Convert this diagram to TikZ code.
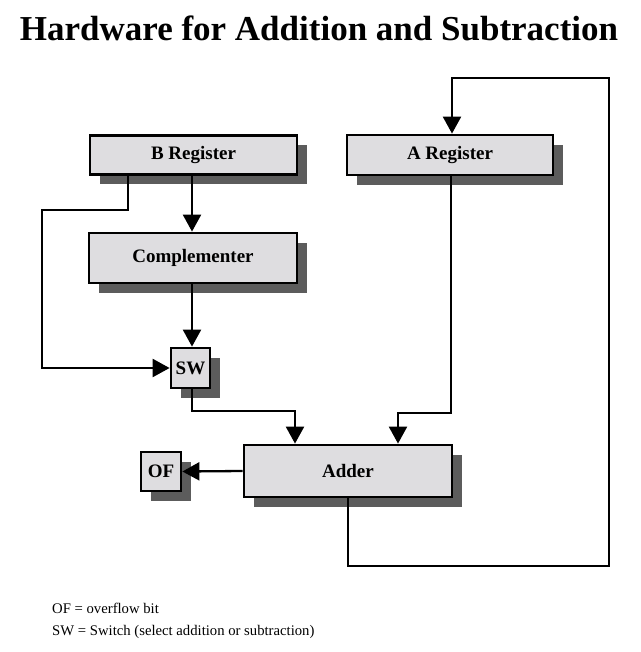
\documentclass[tikz,border=0pt]{standalone}
\usepackage{fontspec}
\setmainfont{Liberation Serif}
\usetikzlibrary{arrows.meta,shadows}
\definecolor{boxfill}{HTML}{DEDDE0}
\definecolor{shadowgray}{HTML}{5C5C5C}
\begin{document}
\begin{tikzpicture}[x=1pt,y=-1pt,
  blk/.style={draw=black, line width=2.8pt, fill=boxfill, inner sep=0pt,
    font=\bfseries\fontsize{19}{22}\selectfont,
    drop shadow={shadow xshift=10pt, shadow yshift=-10pt, fill=shadowgray, opacity=1}},
  wire/.style={line width=2.3pt, line join=miter},
  arr/.style={wire, -{Triangle[width=18pt,length=17pt]}},
  legend/.style={anchor=base west, font=\fontsize{14.7}{17}\selectfont, inner sep=0pt}]
\path[use as bounding box] (0,0) rectangle (640,652);
\node[font=\bfseries\fontsize{35}{40}\selectfont, anchor=base, inner sep=0pt] (title) at (319,41) {Hardware for Addition and Subtraction};
\node[blk, minimum width=207pt, minimum height=39pt] (B) at (193.5,155) {B Register};
\node[blk, minimum width=206pt, minimum height=40pt] (A) at (450,155) {A Register};
\node[blk, minimum width=208pt, minimum height=50pt] (Comp) at (193,258) {Complementer};
\node[blk, minimum width=39pt, minimum height=40pt] (SW) at (190.5,368) {SW};
\node[blk, minimum width=208pt, minimum height=52pt] (Adder) at (348,471) {Adder};
\node[blk, minimum width=40pt, minimum height=39pt] (OF) at (161,471.5) {OF};
\coordinate (c1) at (128,210);
\coordinate (c2) at (42,210);
\coordinate (c3) at (192,0);
\coordinate (c4) at (192,411);
\coordinate (c5) at (295,411);
\coordinate (c6) at (451,413);
\coordinate (c7) at (398,413);
\coordinate (c8) at (348,566);
\coordinate (c9) at (609,566);
\coordinate (c10) at (609,78);
\coordinate (c11) at (452,78);
\draw[arr] (B.south -| c1) -- (c1) -- (c2) |- (SW.west);
\draw[arr] (B.south -| c3) -- (Comp.north -| c3);
\draw[arr] (Comp.south -| c3) -- (SW.north -| c3);
\draw[arr] (SW.south -| c4) -- (c4) -- (c5) -- (Adder.north -| c5);
\draw[arr] (A.south -| c6) -- (c6) -- (c7) -- (Adder.north -| c7);
\draw[arr] (Adder.south -| c8) -- (c8) -- (c9) -- (c10) -- (c11) -- (A.north -| c11);
\draw[arr] (Adder.west) -- (OF.east);
\node[legend] (l1) at (52,613) {OF = overflow bit};
\node[legend] (l2) at (52,635) {SW = Switch (select addition or subtraction)};
\end{tikzpicture}
\end{document}
